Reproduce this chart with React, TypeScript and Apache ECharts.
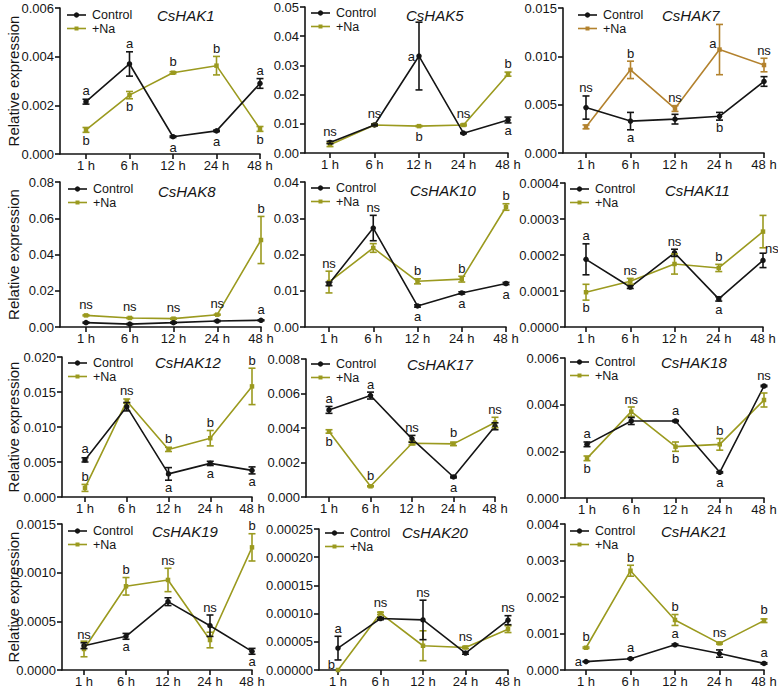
import React, { useEffect, useRef } from "react";
import * as echarts from "echarts";

const categories = ["1 h", "6 h", "12 h", "24 h", "48 h"];
const genes = ["CsHAK1", "CsHAK5", "CsHAK7", "CsHAK8", "CsHAK10", "CsHAK11", "CsHAK12", "CsHAK17", "CsHAK18", "CsHAK19", "CsHAK20", "CsHAK21"];

// CsHAK1
const hak1Ctrl = [0.00215, 0.0037, 0.00071, 0.00095, 0.0029];
const hak1CtrlErr = [0.0001, 0.0005, 0.00003, 0.00003, 0.0002];
const hak1Na = [0.00099, 0.00242, 0.00334, 0.00363, 0.00103];
const hak1NaErr = [0.0001, 0.00015, 0.00004, 0.00038, 0.0001];
const hak1CtrlSig = ["a", "a", "a", "a", "a"];
const hak1NaSig = ["b", "b", "b", "b", "b"];
// CsHAK5
const hak5Ctrl = [0.0036, 0.0096, 0.0332, 0.0068, 0.0113];
const hak5CtrlErr = [0.0004, 0.0003, 0.0116, 0.0002, 0.001];
const hak5Na = [0.0028, 0.0096, 0.0092, 0.0096, 0.027];
const hak5NaErr = [0.0006, 0.0003, 0.0002, 0.0003, 0.0007];
const hak5CtrlSig = ["ns", "ns", "a", "", "a"];
const hak5NaSig = ["", "", "b", "ns", "b"];
// CsHAK7
const hak7Ctrl = [0.0047, 0.0033, 0.0035, 0.0038, 0.0074];
const hak7CtrlErr = [0.0012, 0.0009, 0.0005, 0.0004, 0.0005];
const hak7Na = [0.0027, 0.0086, 0.0046, 0.0107, 0.0091];
const hak7NaErr = [0.0002, 0.0009, 0.0003, 0.0026, 0.0007];
const hak7CtrlSig = ["ns", "a", "", "b", ""];
const hak7NaSig = ["", "b", "ns", "a", "ns"];
// CsHAK8
const hak8Ctrl = [0.0024, 0.0016, 0.0024, 0.0033, 0.0037];
const hak8CtrlErr = [0.0003, 0.0003, 0.0003, 0.0003, 0.0003];
const hak8Na = [0.0064, 0.005, 0.0046, 0.0068, 0.048];
const hak8NaErr = [0.0003, 0.0003, 0.0003, 0.0003, 0.013];
const hak8CtrlSig = ["", "", "", "", "a"];
const hak8NaSig = ["ns", "ns", "ns", "ns", "b"];
// CsHAK10
const hak10Ctrl = [0.0119, 0.0273, 0.0058, 0.0094, 0.012];
const hak10CtrlErr = [0.0005, 0.0035, 0.0003, 0.0003, 0.0003];
const hak10Na = [0.0124, 0.0218, 0.0126, 0.0132, 0.0331];
const hak10NaErr = [0.003, 0.0012, 0.0007, 0.0008, 0.0009];
const hak10CtrlSig = ["", "ns", "a", "a", "a"];
const hak10NaSig = ["ns", "", "b", "b", "b"];
// CsHAK11
const hak11Ctrl = [0.000188, 0.000111, 0.000206, 0.000078, 0.000185];
const hak11CtrlErr = [0.000043, 0.000004, 0.00001, 0.000006, 0.00002];
const hak11Na = [0.0000966, 0.000127, 0.000175, 0.000164, 0.000265];
const hak11NaErr = [0.000022, 0.000008, 0.000028, 0.00001, 0.000045];
const hak11CtrlSig = ["a", "", "ns", "a", "ns"];
const hak11NaSig = ["b", "ns", "", "b", ""];
// CsHAK12
const hak12Ctrl = [0.0053, 0.0129, 0.0033, 0.0048, 0.0038];
const hak12CtrlErr = [0.0003, 0.0006, 0.0009, 0.0003, 0.0005];
const hak12Na = [0.0013, 0.0137, 0.0068, 0.0084, 0.0158];
const hak12NaErr = [0.0005, 0.0003, 0.0003, 0.0011, 0.0026];
const hak12CtrlSig = ["a", "", "a", "a", "a"];
const hak12NaSig = ["b", "ns", "b", "b", "b"];
// CsHAK17
const hak17Ctrl = [0.00505, 0.00588, 0.00337, 0.00116, 0.0041];
const hak17CtrlErr = [0.0002, 0.0002, 0.0002, 0.00005, 0.0002];
const hak17Na = [0.0038, 0.00062, 0.00312, 0.00308, 0.00432];
const hak17NaErr = [0.0001, 0.00003, 0.0001, 0.0001, 0.0003];
const hak17CtrlSig = ["a", "a", "ns", "a", ""];
const hak17NaSig = ["b", "b", "", "b", "ns"];
// CsHAK18
const hak18Ctrl = [0.0023, 0.0033, 0.0033, 0.0011, 0.0048];
const hak18CtrlErr = [0.0001, 0.00015, 0.00003, 0.00003, 0.00003];
const hak18Na = [0.0017, 0.0037, 0.0022, 0.0023, 0.0042];
const hak18NaErr = [0.0001, 0.0002, 0.0002, 0.00025, 0.0003];
const hak18CtrlSig = ["a", "", "a", "a", "ns"];
const hak18NaSig = ["b", "ns", "b", "b", ""];
// CsHAK19
const hak19Ctrl = [0.00025, 0.000346, 0.000702, 0.000455, 0.000192];
const hak19CtrlErr = [0.00003, 0.00003, 0.00004, 0.00011, 0.00003];
const hak19Na = [0.000216, 0.00086, 0.000925, 0.000308, 0.00126];
const hak19NaErr = [0.00008, 0.00009, 0.00012, 0.00008, 0.00014];
const hak19CtrlSig = ["ns", "a", "", "ns", "a"];
const hak19NaSig = ["", "b", "ns", "", "b"];
// CsHAK20
const hak20Ctrl = [0.0000388, 0.0000912, 0.0000888, 0.00003, 0.0000883];
const hak20CtrlErr = [0.000021, 0.000002, 0.000035, 0.000002, 0.000008];
const hak20Na = [0, 0.0001006, 0.000043, 0.00004, 0.0000724];
const hak20NaErr = [0, 0.000002, 0.0000265, 0.000002, 0.000006];
const hak20CtrlSig = ["a", "", "ns", "", "ns"];
const hak20NaSig = ["b", "ns", "", "ns", ""];
// CsHAK21
const hak21Ctrl = [0.00023, 0.00031, 0.00069, 0.00045, 0.00018];
const hak21CtrlErr = [0.00001, 0.00001, 0.00002, 0.0001, 0.00002];
const hak21Na = [0.00061, 0.00272, 0.00137, 0.00073, 0.00135];
const hak21NaErr = [0.00002, 0.00015, 0.00015, 0.00002, 0.00005];
const hak21CtrlSig = ["a", "a", "a", "", "a"];
const hak21NaSig = ["b", "b", "b", "ns", "b"];

const ctrlMeans = [hak1Ctrl, hak5Ctrl, hak7Ctrl, hak8Ctrl, hak10Ctrl, hak11Ctrl, hak12Ctrl, hak17Ctrl, hak18Ctrl, hak19Ctrl, hak20Ctrl, hak21Ctrl];
const ctrlErrs = [hak1CtrlErr, hak5CtrlErr, hak7CtrlErr, hak8CtrlErr, hak10CtrlErr, hak11CtrlErr, hak12CtrlErr, hak17CtrlErr, hak18CtrlErr, hak19CtrlErr, hak20CtrlErr, hak21CtrlErr];
const naMeans = [hak1Na, hak5Na, hak7Na, hak8Na, hak10Na, hak11Na, hak12Na, hak17Na, hak18Na, hak19Na, hak20Na, hak21Na];
const naErrs = [hak1NaErr, hak5NaErr, hak7NaErr, hak8NaErr, hak10NaErr, hak11NaErr, hak12NaErr, hak17NaErr, hak18NaErr, hak19NaErr, hak20NaErr, hak21NaErr];
const ctrlSigs = [hak1CtrlSig, hak5CtrlSig, hak7CtrlSig, hak8CtrlSig, hak10CtrlSig, hak11CtrlSig, hak12CtrlSig, hak17CtrlSig, hak18CtrlSig, hak19CtrlSig, hak20CtrlSig, hak21CtrlSig];
const naSigs = [hak1NaSig, hak5NaSig, hak7NaSig, hak8NaSig, hak10NaSig, hak11NaSig, hak12NaSig, hak17NaSig, hak18NaSig, hak19NaSig, hak20NaSig, hak21NaSig];

// y-axis ticks
const yMax = [0.006, 0.05, 0.015, 0.08, 0.04, 0.0004, 0.02, 0.008, 0.006, 0.0015, 0.00025, 0.004];
const yStep = [0.002, 0.01, 0.005, 0.02, 0.01, 0.0001, 0.005, 0.002, 0.002, 0.0005, 0.00005, 0.001];
const yDecimals = [3, 2, 3, 2, 2, 4, 3, 3, 3, 4, 5, 3];

// ---- layout (pixels) ----
// [axisX, firstPointX, lastPointX, top, bottom]
const boxes = [
  [60, 86, 260, 8, 154],
  [305, 330, 508, 7, 153],
  [563, 586, 764, 8, 153],
  [60, 86, 261, 182, 327],
  [305, 329, 506, 182, 327],
  [565, 586, 763, 183, 327],
  [62, 85, 252, 357, 497],
  [306, 329, 495, 359, 497],
  [565, 587, 764, 358, 498],
  [62, 84, 252, 524, 670],
  [319, 338, 508, 529, 670],
  [565, 586, 764, 524, 670],
];
const titlePos = [
  [157, 15], [406, 15], [662, 15],
  [158, 191], [410, 190], [665, 190],
  [155, 362], [407, 364], [661, 362],
  [152, 531], [402, 532], [661, 531],
];
const legendPos = [
  [67, 15], [311, 13], [578, 15],
  [68, 189], [311, 188], [570, 189],
  [68, 363], [311, 364], [570, 362],
  [68, 531], [325, 533], [570, 531],
];
// placement of significance letters: t = above, b = below, l = left, r = right
const ctrlSigPos = [
  ["t", "t", "b", "b", "t"],
  ["t", "t", "l", "", "b"],
  ["t", "b", "", "b", ""],
  ["", "", "", "", "t"],
  ["", "t", "b", "b", "b"],
  ["t", "", "t", "b", "rt"],
  ["t", "", "b", "b", "b"],
  ["t", "t", "t", "b", ""],
  ["t", "", "t", "b", "t"],
  ["t", "b", "", "t", "b"],
  ["t", "", "t", "", "t"],
  ["l", "t", "t", "", "t"],
];
const naSigPos = [
  ["b", "b", "t", "t", "b"],
  ["", "", "b", "t", "t"],
  ["", "t", "t", "lt", "t"],
  ["t", "t", "t", "t", "t"],
  ["t", "", "t", "t", "t"],
  ["b", "t", "", "t", ""],
  ["t", "t", "t", "t", "t"],
  ["b", "t", "", "t", "t"],
  ["b", "t", "b", "t", ""],
  ["", "t", "t", "", "t"],
  ["lt", "t", "", "t", ""],
  ["t", "t", "t", "t", "t"],
];

const FONT = "'Liberation Sans', Arial, Helvetica, sans-serif";
const CTRL_COLOR = "#151515";
const NA_COLOR = "#9b9a1f";
const NA_COLOR_ALT = "#b3822e";
const TEXT_COLOR = "#151515";

function buildOption() {
  const grids: any[] = [];
  const xAxes: any[] = [];
  const yAxes: any[] = [];
  const series: any[] = [];
  const graphics: any[] = [];

  genes.forEach((gene, p) => {
    const [ax, x1, x5, top, bottom] = boxes[p];
    const spacing = (x5 - x1) / 4;
    const xMin = 1 - (x1 - ax) / spacing;
    const naColor = gene === "CsHAK7" ? NA_COLOR_ALT : NA_COLOR;
    grids.push({ left: ax, top, width: x5 - ax, height: bottom - top, containLabel: false, outerBoundsMode: "none" });
    xAxes.push({
      type: "value", gridIndex: p, min: xMin, max: 5,
      axisLine: { show: true, onZero: false, lineStyle: { color: TEXT_COLOR, width: 1.6 } },
      axisTick: { show: true, length: 5, customValues: [1, 2, 3, 4, 5], lineStyle: { color: TEXT_COLOR, width: 1.6 } },
      axisLabel: {
        show: true, customValues: [1, 2, 3, 4, 5], margin: 5,
        formatter: (v: number) => categories[Math.round(v) - 1] ?? "",
        fontSize: 13, fontFamily: FONT, color: TEXT_COLOR,
      },
      splitLine: { show: false },
    });
    const dec = yDecimals[p];
    yAxes.push({
      type: "value", gridIndex: p, min: 0, max: yMax[p], interval: yStep[p],
      axisLine: { show: true, lineStyle: { color: TEXT_COLOR, width: 1.6 } },
      axisTick: { show: true, length: 5, lineStyle: { color: TEXT_COLOR, width: 1.6 } },
      axisLabel: { formatter: (v: number) => v.toFixed(dec), fontSize: 13, fontFamily: FONT, color: TEXT_COLOR, margin: 6 },
      splitLine: { show: false },
    });

    const groups = [
      { name: "+Na", means: naMeans[p], errs: naErrs[p], color: naColor, symbol: "rect", size: 4.5 },
      { name: "Control", means: ctrlMeans[p], errs: ctrlErrs[p], color: CTRL_COLOR, symbol: "circle", size: 5.5 },
    ];
    groups.forEach((g) => {
      series.push({
        type: "line", name: g.name, xAxisIndex: p, yAxisIndex: p,
        data: g.means.map((v, i) => [i + 1, v]),
        symbol: g.symbol, symbolSize: g.size, showSymbol: true,
        itemStyle: { color: g.color }, lineStyle: { color: g.color, width: 1.6 },
        emphasis: { disabled: true }, z: 3,
      });
      series.push({
        type: "custom", xAxisIndex: p, yAxisIndex: p, z: 4, silent: true,
        data: g.means.map((v, i) => [i + 1, v]),
        renderItem: (params: any, api: any) => {
          const i = params.dataIndex;
          const e = g.errs[i];
          if (!e) return null;
          const m = g.means[i];
          const t = api.coord([i + 1, m + e]);
          const b = api.coord([i + 1, m - e]);
          const st = { stroke: g.color, lineWidth: 1.6 };
          return {
            type: "group", children: [
              { type: "line", shape: { x1: t[0], y1: t[1], x2: b[0], y2: b[1] }, style: st },
              { type: "line", shape: { x1: t[0] - 3.5, y1: t[1], x2: t[0] + 3.5, y2: t[1] }, style: st },
              { type: "line", shape: { x1: b[0] - 3.5, y1: b[1], x2: b[0] + 3.5, y2: b[1] }, style: st },
            ],
          };
        },
      });
    });

    // significance letters
    const labelItems: any[] = [];
    for (let i = 0; i < 5; i++) labelItems.push([i + 1, ctrlMeans[p][i]]);
    for (let i = 0; i < 5; i++) labelItems.push([i + 1, naMeans[p][i]]);
    series.push({
      type: "custom", xAxisIndex: p, yAxisIndex: p, z: 5, silent: true,
      data: labelItems,
      renderItem: (params: any, api: any) => {
        const k = params.dataIndex;
        const isCtrl = k < 5;
        const i = k % 5;
        const txt = isCtrl ? ctrlSigs[p][i] : naSigs[p][i];
        const pos = isCtrl ? ctrlSigPos[p][i] : naSigPos[p][i];
        if (!txt || !pos) return null;
        const m = isCtrl ? ctrlMeans[p][i] : naMeans[p][i];
        const e = isCtrl ? ctrlErrs[p][i] : naErrs[p][i];
        const c = api.coord([i + 1, m]);
        let x = c[0], y = c[1], align = "center", va = "middle";
        if (pos === "t") {
          const ty = api.coord([i + 1, m + e])[1];
          y = Math.min(ty, c[1] - 3) - 1.5; va = "bottom";
        } else if (pos === "b") {
          const by = api.coord([i + 1, m - e])[1];
          y = Math.max(by, c[1] + 3) + 1; va = "top";
        } else if (pos === "l") {
          x = c[0] - 4; align = "right";
        } else if (pos === "lt") {
          x = c[0] - 3; y = c[1] - 6; align = "right";
        } else if (pos === "r") {
          x = c[0] + 3; align = "left";
        } else if (pos === "rt") {
          x = c[0] + 2; y = c[1] - 12; align = "left";
        }
        return {
          type: "text",
          style: { text: txt, x, y, textAlign: align, textVerticalAlign: va, fontSize: 13, fontFamily: FONT, fill: TEXT_COLOR },
        };
      },
    });

    // title
    graphics.push({
      type: "text", x: titlePos[p][0], y: titlePos[p][1],
      style: { text: gene, x: 0, y: 0, textAlign: "left", textVerticalAlign: "middle", fontSize: 15, fontStyle: "italic", fontFamily: FONT, fill: TEXT_COLOR },
    });
    // legend
    const [lx, ly] = legendPos[p];
    const rows = [
      { name: "Control", color: CTRL_COLOR, symbol: "circle", y: ly },
      { name: "+Na", color: naColor, symbol: "rect", y: ly + 13.5 },
    ];
    rows.forEach((r) => {
      graphics.push({ type: "line", shape: { x1: lx, y1: r.y, x2: lx + 19, y2: r.y }, style: { stroke: r.color, lineWidth: 1.6 } });
      if (r.symbol === "circle") {
        graphics.push({ type: "circle", shape: { cx: lx + 9.5, cy: r.y, r: 2.7 }, style: { fill: r.color } });
      } else {
        graphics.push({ type: "rect", shape: { x: lx + 7.5, y: r.y - 2, width: 4, height: 4 }, style: { fill: r.color } });
      }
      graphics.push({
        type: "text", x: lx + 25, y: r.y,
        style: { text: r.name, x: 0, y: 0, textAlign: "left", textVerticalAlign: "middle", fontSize: 12.5, fontFamily: FONT, fill: TEXT_COLOR },
      });
    });
    // y-axis name in first column
    if (p % 3 === 0) {
      graphics.push({
        type: "text", x: 13, y: (top + bottom) / 2, rotation: Math.PI / 2,
        style: { text: "Relative expression", x: 0, y: 0, textAlign: "center", textVerticalAlign: "middle", fontSize: 15, fontFamily: FONT, fill: TEXT_COLOR },
      });
    }
  });

  return {
    animation: false,
    backgroundColor: "#ffffff",
    textStyle: { fontFamily: FONT },
    grid: grids,
    xAxis: xAxes,
    yAxis: yAxes,
    series,
    graphic: { elements: graphics },
  };
}

export default function App() {
  const ref = useRef<HTMLDivElement>(null);
  useEffect(() => {
    if (!ref.current) return;
    const chart = echarts.init(ref.current, null, { renderer: "svg" });
    chart.setOption(buildOption() as any);
    return () => chart.dispose();
  }, []);
  return <div ref={ref} style={{ position: "fixed", left: 0, top: 0, width: 778, height: 689, background: "#fff" }} />;
}
